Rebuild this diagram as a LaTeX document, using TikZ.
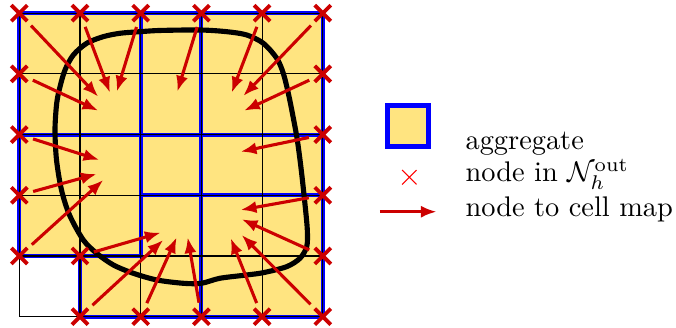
\documentclass[tikz,border=0pt]{standalone}
\usetikzlibrary{arrows.meta,shapes.misc}
\definecolor{aggfill}{RGB}{255,228,128}
\definecolor{mapred}{RGB}{204,0,0}
\definecolor{aggblue}{RGB}{0,0,255}
\begin{document}
\begin{tikzpicture}[x=1cm,y=1cm,
  aggline/.style={draw=aggblue, line width=1.9pt},
  gridline/.style={draw=black, line width=0.5pt},
  curveline/.style={draw=black, line width=2.4pt, line join=round},
  maparrow/.style={draw=mapred, line width=1.45pt, -{Latex[length=2.6mm,width=2.0mm]}, shorten <=0.1cm},
  xmark/.style={cross out, draw=mapred, line width=1.8pt, minimum size=0.2cm, inner sep=0pt},
  legx/.style={cross out, draw=red, line width=0.5pt, minimum size=0.22cm, inner sep=0pt},
  legtext/.style={anchor=base west, inner sep=0pt, font=\normalsize, scale=1.33, transform shape}
]
\useasboundingbox (-0.318,-0.186) rectangle (10.819,5.217);

% cells
\fill[aggfill] (0,1) rectangle (5,5);
\fill[aggfill] (1,0) rectangle (5,1);

% aggregates
\draw[aggline] (0,3) rectangle (2,5);
\draw[aggline] (2,3) rectangle (3,5);
\draw[aggline] (3,3) rectangle (5,5);
\draw[aggline] (0,1) rectangle (2,3);
\draw[aggline] (2,2) rectangle (3,3);
\draw[aggline] (3,2) rectangle (5,3);
\draw[aggline] (3,0) rectangle (5,2);
\draw[aggline] (1,0) -- (3,0) -- (3,2) -- (2,2) -- (2,1) -- (1,1) -- cycle;

% mesh
\draw[gridline] (0,0) grid (5,5);

% boundary curve
\draw[curveline] plot[smooth cycle, tension=0.5] coordinates {
 (0.613,2.582) (0.588,3.076) (0.616,3.516) (0.671,3.789) (0.753,4.064)
 (0.890,4.311) (1.110,4.504) (1.384,4.613) (1.659,4.669) (1.988,4.695)
 (2.318,4.715) (2.977,4.723) (3.417,4.695) (3.746,4.641) (4.020,4.504)
 (4.241,4.257) (4.349,4.010) (4.432,3.680) (4.510,3.295) (4.580,2.911)
 (4.645,2.417) (4.705,1.868) (4.745,1.428) (4.735,1.153) (4.624,0.962)
 (4.405,0.824) (4.020,0.725) (3.746,0.687) (3.306,0.633) (3.000,0.550)
 (2.702,0.550) (2.264,0.605) (1.878,0.715) (1.549,0.852) (1.275,1.044)
 (1.054,1.264) (0.827,1.675) (0.695,2.087)};

% outside nodes
\foreach \i in {0,...,5} {\node[xmark] (n\i5) at (\i,5) {};}
\foreach \j in {1,...,4} {\node[xmark] (n0\j) at (0,\j) {};}
\foreach \j in {0,...,4} {\node[xmark] (n5\j) at (5,\j) {};}
\node[xmark] (n11) at (1,1) {};
\foreach \i in {1,...,4} {\node[xmark] (n\i0) at (\i,0) {};}

% targets
\coordinate (t05) at (1.301,3.624);
\coordinate (t04) at (1.301,3.394);
\coordinate (t15) at (1.494,3.690);
\coordinate (t25) at (1.605,3.707);
\coordinate (t35) at (2.603,3.707);
\coordinate (t45) at (3.499,3.690);
\coordinate (t55) at (3.690,3.636);
\coordinate (t54) at (3.702,3.394);
\coordinate (t03) at (1.318,2.582);
\coordinate (t02) at (1.275,2.350);
\coordinate (t01) at (1.384,2.252);
\coordinate (t53) at (3.647,2.718);
\coordinate (t52) at (3.647,1.758);
\coordinate (t51) at (3.664,1.605);
\coordinate (t50) at (3.664,1.346);
\coordinate (t40) at (3.483,1.292);
\coordinate (t30) at (2.774,1.308);
\coordinate (t20) at (2.593,1.308);
\coordinate (t10) at (2.372,1.264);
\coordinate (t11) at (2.329,1.384);

\foreach \k in {05,15,25,35,45,55,04,54,03,53,02,52,01,51,50,40,30,20,10,11}
  {\draw[maparrow] (n\k) -- (t\k);}

% legend
\node[draw=aggblue, fill=aggfill, line width=2.6pt, minimum size=0.67cm, inner sep=0pt] (legagg) at (6.404,3.142) {};
\node[legx] (legnode) at (6.425,2.297) {};
\coordinate (la1) at (5.942,1.729);
\coordinate (la2) at (6.876,1.729);
\draw[maparrow, shorten <=0pt] (la1) -- (la2);
\node[legtext] (txtagg) at (7.343,2.758) {aggregate};
\node[legtext] (txtnode) at (7.343,2.224) {node in $\mathcal{N}_h^{\mathrm{out}}$};
\node[legtext] (txtmap) at (7.343,1.647) {node to cell map};
\end{tikzpicture}
\end{document}
